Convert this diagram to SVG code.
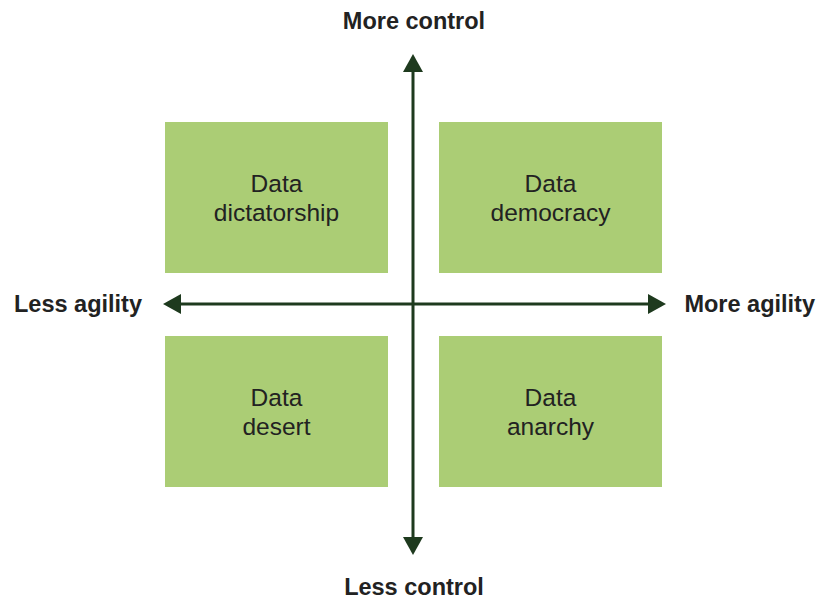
<svg xmlns="http://www.w3.org/2000/svg" width="818" height="600" viewBox="0 0 818 600">
<style>
.box{fill:#abcd75}
.t{font-family:"Liberation Sans",Arial,sans-serif;font-size:24.5px;fill:#222;text-anchor:middle}
.lab{font-family:"Liberation Sans",Arial,sans-serif;font-size:23.5px;font-weight:bold;fill:#222}
.ax{stroke:#1e3a1e;stroke-width:3;fill:none}
.hd{fill:#1e3a1e}
</style>
<rect width="818" height="600" fill="#fff"/>
<g id="dictatorship"><rect class="box" x="165" y="122" width="223" height="151"/><text class="t" x="276.5" y="192">Data</text><text class="t" x="276.5" y="221">dictatorship</text></g>
<g id="democracy"><rect class="box" x="439" y="122" width="223" height="151"/><text class="t" x="550.5" y="192">Data</text><text class="t" x="550.5" y="221">democracy</text></g>
<g id="desert"><rect class="box" x="165" y="336" width="223" height="151"/><text class="t" x="276.5" y="406">Data</text><text class="t" x="276.5" y="435">desert</text></g>
<g id="anarchy"><rect class="box" x="439" y="336" width="223" height="151"/><text class="t" x="550.5" y="406">Data</text><text class="t" x="550.5" y="435">anarchy</text></g>
<g id="connectors">
<line class="ax" x1="413" y1="70" x2="413" y2="540"/>
<line class="ax" x1="178" y1="304" x2="650" y2="304"/>
<polygon class="hd" points="413,54 403,72 423,72"/>
<polygon class="hd" points="413,555 403,537 423,537"/>
<polygon class="hd" points="163,304 181,294 181,314"/>
<polygon class="hd" points="666,304 648,294 648,314"/>
</g>
<g id="labels">
<text class="lab" x="414" y="29" text-anchor="middle">More control</text>
<text class="lab" x="414" y="595" text-anchor="middle">Less control</text>
<text class="lab" x="14" y="312">Less agility</text>
<text class="lab" x="815" y="312" text-anchor="end">More agility</text>
</g>
</svg>
